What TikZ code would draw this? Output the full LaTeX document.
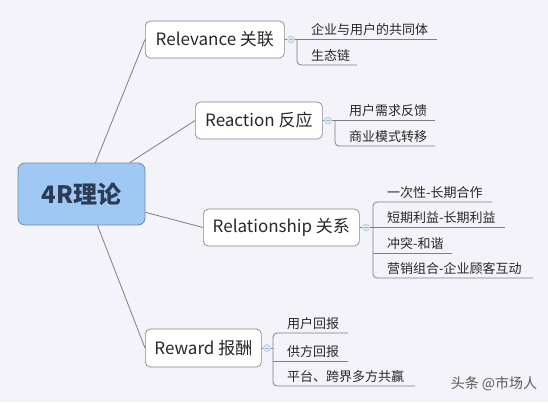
\documentclass[tikz,border=0pt]{standalone}
\usepackage{fontspec}
\setmainfont{Noto Sans CJK SC}
\usetikzlibrary{positioning}
\definecolor{bgc}{RGB}{243,243,249}
\definecolor{rootfill}{RGB}{160,200,245}
\definecolor{rootline}{RGB}{115,135,165}
\definecolor{roottext}{RGB}{45,60,85}
\definecolor{boxline}{RGB}{135,135,140}
\definecolor{linec}{RGB}{125,125,130}
\definecolor{txt}{RGB}{40,40,40}
\definecolor{knobfill}{RGB}{222,232,245}
\definecolor{knobline}{RGB}{165,185,210}
\begin{document}
\begin{tikzpicture}[x=1pt,y=-1pt]
  \tikzstyle{root}=[draw=rootline, fill=rootfill, rounded corners=7pt, line width=0.8pt,
    minimum width=127pt, minimum height=62pt, text=roottext,
    font=\fontsize{24}{26}\selectfont\bfseries]
  \tikzstyle{topic}=[draw=boxline, fill=white, rounded corners=5pt, line width=0.7pt,
    minimum height=37pt, inner xsep=0pt, anchor=west, text=txt,
    font=\fontsize{17}{19}\selectfont]
  \tikzstyle{leaf}=[anchor=base west, inner sep=0pt, text=txt,
    font=\fontsize{13}{15}\selectfont]
  \tikzstyle{knob}=[circle, draw=knobline, fill=knobfill, minimum size=7pt, inner sep=0pt]
  \tikzstyle{link}=[draw=linec, line width=0.8pt]
  \tikzstyle{wmark}=[text={rgb,255:red,90;green,90;blue,90}, font=\fontsize{14}{16}\selectfont]

  \fill[bgc] (0,0) rectangle (548,402);
  \useasboundingbox (0,0) rectangle (548,402);

  % root and main topics
  \node[root] (root) at (81.5,194) {4R理论};
  \node[topic, minimum width=139pt] (rel) at (145,39.5) {Relevance 关联};
  \node[topic, minimum width=127pt] (rea) at (195,120.5) {Reaction 反应};
  \node[topic, minimum width=156pt] (ship) at (203,227.5) {Relationship 关系};
  \node[topic, minimum width=116pt, minimum height=38pt] (rew) at (145,348) {Reward 报酬};

  \draw[link] (root.66) -- (rel.west);
  \draw[link] (root.33) -- (rea.west);
  \draw[link] (root.-16) -- (ship.west);
  \draw[link] (root.-63) -- (rew.west);

  % collapse knobs
  \node[knob] (rel-k) at (291,39.5) {};
  \node[knob] (rea-k) at (328,120.5) {};
  \node[knob] (ship-k) at (366,227.5) {};
  \node[knob] (rew-k) at (267,348) {};
  \foreach \k in {rel-k,rea-k,ship-k,rew-k}
    \draw[knobline, line width=0.5pt] ([xshift=-2pt]\k.center) -- ([xshift=2pt]\k.center);

  % leaves
  \foreach \n/\y/\l/\t in {1/39.5/140/企业与用户的共同体, 2/65/60/生态链} {
    \node[leaf] (rel-\n) at (311,\y-5) {\t};
    \coordinate (rel-\n-l) at (297,\y);
    \coordinate (rel-\n-r) at (297+\l,\y);
  }
  \foreach \n/\y/\l/\t in {1/120.5/100/用户需求反馈, 2/146/100/商业模式转移} {
    \node[leaf] (rea-\n) at (349,\y-5) {\t};
    \coordinate (rea-\n-l) at (335,\y);
    \coordinate (rea-\n-r) at (335+\l,\y);
  }
  \foreach \n/\y/\l/\t in {1/202/119/一次性-长期合作, 2/227.5/132/短期利益-长期利益,
      3/253/79/冲突-和谐, 4/278/160/营销组合-企业顾客互动} {
    \node[leaf] (ship-\n) at (387,\y-5) {\t};
    \coordinate (ship-\n-l) at (373,\y);
    \coordinate (ship-\n-r) at (373+\l,\y);
  }
  \foreach \n/\y/\l/\t in {1/333/75/用户回报, 2/361/75/供方回报, 3/386/142/平台、跨界多方共赢} {
    \node[leaf] (rew-\n) at (287,\y-5) {\t};
    \coordinate (rew-\n-l) at (273,\y);
    \coordinate (rew-\n-r) at (273+\l,\y);
  }

  % branch lines
  \draw[link] (rel) -- (rel-k) -- (rel-1-l);
  \draw[link] (rel-1-l) -- (rel-1-r);
  \draw[link, rounded corners=4pt] (rel-1-l) -- (rel-2-l) -- (rel-2-r);
  \draw[link] (rea) -- (rea-k) -- (rea-1-l);
  \draw[link] (rea-1-l) -- (rea-1-r);
  \draw[link, rounded corners=4pt] (rea-1-l) -- (rea-2-l) -- (rea-2-r);
  \draw[link] (ship) -- (ship-k) -- (ship-2-l);
  \draw[link, rounded corners=4pt] (ship-1-r) -- (ship-1-l) -- (ship-4-l) -- (ship-4-r);
  \draw[link] (ship-2-l) -- (ship-2-r);
  \draw[link] (ship-3-l) -- (ship-3-r);
  \draw[link] (rew) -- (rew-k) -- (rew-k -| rew-1-l);
  \draw[link, rounded corners=4pt] (rew-1-r) -- (rew-1-l) -- (rew-3-l) -- (rew-3-r);
  \draw[link] (rew-2-l) -- (rew-2-r);

  \node[wmark] (wm) at (494,384) {头条 @市场人};
\end{tikzpicture}
\end{document}
